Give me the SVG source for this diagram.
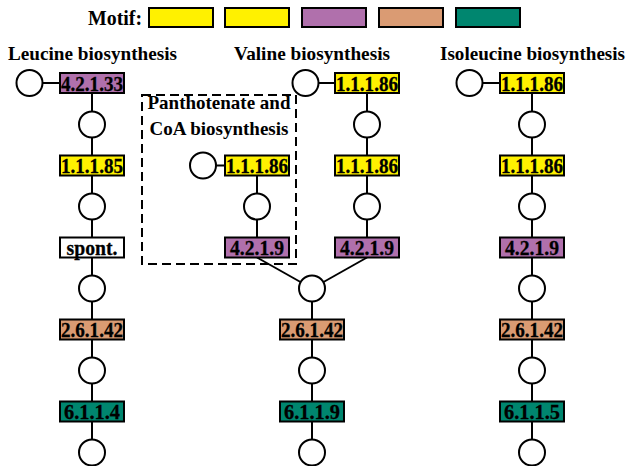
<svg xmlns="http://www.w3.org/2000/svg" width="628" height="466" viewBox="0 0 628 466">
<style>
.t{font-family:"Liberation Serif","Times New Roman",serif;font-weight:bold;font-size:19px;fill:#000}
.m{font-family:"Liberation Serif","Times New Roman",serif;font-weight:bold;font-size:20px;fill:#000}
.l{font-family:"Liberation Serif","Times New Roman",serif;font-weight:bold;font-size:22px;fill:#000;stroke:#000;stroke-width:0.3;text-anchor:middle}
.bx{stroke:#000;stroke-width:2}
.y{fill:#FFF100}
.p{fill:#B070AC}
.o{fill:#DA9B73}
.g{fill:#00866F}
.w{fill:#fff}
.c{fill:#fff;stroke:#000;stroke-width:2}
.ln{stroke:#000;stroke-width:2;fill:none}
.dash{stroke:#000;stroke-width:2;fill:none;stroke-dasharray:9 5}
</style>
<g id="legend">
<text class="m" x="88" y="25" textLength="54" lengthAdjust="spacingAndGlyphs">Motif:</text>
<rect class="bx y" x="149" y="8" width="64" height="19"/>
<rect class="bx y" x="225" y="8" width="64" height="19"/>
<rect class="bx p" x="302" y="8" width="64" height="19"/>
<rect class="bx o" x="379" y="8" width="64" height="19"/>
<rect class="bx g" x="456" y="8" width="64" height="19"/>
</g>
<g id="titles">
<text class="t" x="8" y="60" textLength="169" lengthAdjust="spacingAndGlyphs">Leucine biosynthesis</text>
<text class="t" x="234" y="60" textLength="156" lengthAdjust="spacingAndGlyphs">Valine biosynthesis</text>
<text class="t" x="440" y="60" textLength="185" lengthAdjust="spacingAndGlyphs">Isoleucine biosynthesis</text>
</g>
<g id="pantothenate-box">
<rect class="dash" x="142" y="95" width="154" height="169"/>
<text class="t" x="219" y="109" text-anchor="middle">Panthotenate and</text>
<text class="t" x="219" y="135" text-anchor="middle">CoA biosynthesis</text>
</g>
<g id="connectors">
<line class="ln" x1="29.5" y1="83" x2="92" y2="83"/>
<line class="ln" x1="92" y1="83" x2="92" y2="466"/>
<line class="ln" x1="203" y1="165.5" x2="257" y2="165.5"/>
<line class="ln" x1="257" y1="165.5" x2="257" y2="247.5"/>
<line class="ln" x1="305.5" y1="83" x2="367" y2="83"/>
<line class="ln" x1="367" y1="83" x2="367" y2="247.5"/>
<line class="ln" x1="257" y1="257.5" x2="312" y2="288.5"/>
<line class="ln" x1="367" y1="257.5" x2="312" y2="288.5"/>
<line class="ln" x1="312" y1="288.5" x2="312" y2="466"/>
<line class="ln" x1="469.5" y1="83" x2="532" y2="83"/>
<line class="ln" x1="532" y1="83" x2="532" y2="466"/>
</g>
<g id="leucine">
<g id="L-c0"><circle class="c" cx="29.5" cy="83" r="13"/></g>
<g id="L-4-2-1-33"><rect class="bx p" x="60" y="73" width="64" height="20"/><text class="l" x="92" y="90.5" textLength="62" lengthAdjust="spacingAndGlyphs">4.2.1.33</text></g>
<g id="L-c1"><circle class="c" cx="92" cy="124.5" r="13"/></g>
<g id="L-1-1-1-85"><rect class="bx y" x="60" y="155.5" width="64" height="20"/><text class="l" x="92" y="173" textLength="62" lengthAdjust="spacingAndGlyphs">1.1.1.85</text></g>
<g id="L-c2"><circle class="c" cx="92" cy="206.5" r="13"/></g>
<g id="L-spont"><rect class="bx w" x="60" y="237.5" width="64" height="20"/><text class="l" x="92" y="254.5" textLength="51" lengthAdjust="spacingAndGlyphs">spont.</text></g>
<g id="L-c3"><circle class="c" cx="92" cy="288.5" r="13"/></g>
<g id="L-2-6-1-42"><rect class="bx o" x="60" y="319.5" width="64" height="20"/><text class="l" x="92" y="337" textLength="62" lengthAdjust="spacingAndGlyphs">2.6.1.42</text></g>
<g id="L-c4"><circle class="c" cx="92" cy="370.5" r="13"/></g>
<g id="L-6-1-1-4"><rect class="bx g" x="60" y="401.5" width="64" height="20"/><text class="l" x="92" y="419" textLength="56" lengthAdjust="spacingAndGlyphs">6.1.1.4</text></g>
<g id="L-c5"><circle class="c" cx="92" cy="452.5" r="13"/></g>
</g>
<g id="pantothenate">
<g id="P-c0"><circle class="c" cx="203" cy="165.5" r="13"/></g>
<g id="P-1-1-1-86"><rect class="bx y" x="225" y="155.5" width="64" height="20"/><text class="l" x="257" y="173" textLength="62" lengthAdjust="spacingAndGlyphs">1.1.1.86</text></g>
<g id="P-c1"><circle class="c" cx="257" cy="206.5" r="13"/></g>
<g id="P-4-2-1-9"><rect class="bx p" x="225" y="237.5" width="64" height="20"/><text class="l" x="257" y="255" textLength="54" lengthAdjust="spacingAndGlyphs">4.2.1.9</text></g>
</g>
<g id="valine">
<g id="V-c0"><circle class="c" cx="305.5" cy="83" r="13"/></g>
<g id="V-1-1-1-86a"><rect class="bx y" x="335" y="73" width="64" height="20"/><text class="l" x="367" y="90.5" textLength="62" lengthAdjust="spacingAndGlyphs">1.1.1.86</text></g>
<g id="V-c1"><circle class="c" cx="367" cy="124.5" r="13"/></g>
<g id="V-1-1-1-86b"><rect class="bx y" x="335" y="155.5" width="64" height="20"/><text class="l" x="367" y="173" textLength="62" lengthAdjust="spacingAndGlyphs">1.1.1.86</text></g>
<g id="V-c2"><circle class="c" cx="367" cy="206.5" r="13"/></g>
<g id="V-4-2-1-9"><rect class="bx p" x="335" y="237.5" width="64" height="20"/><text class="l" x="367" y="255" textLength="54" lengthAdjust="spacingAndGlyphs">4.2.1.9</text></g>
<g id="V-c3"><circle class="c" cx="312" cy="288.5" r="13"/></g>
<g id="V-2-6-1-42"><rect class="bx o" x="280" y="319.5" width="64" height="20"/><text class="l" x="312" y="337" textLength="62" lengthAdjust="spacingAndGlyphs">2.6.1.42</text></g>
<g id="V-c4"><circle class="c" cx="312" cy="370.5" r="13"/></g>
<g id="V-6-1-1-9"><rect class="bx g" x="280" y="401.5" width="64" height="20"/><text class="l" x="312" y="419" textLength="56" lengthAdjust="spacingAndGlyphs">6.1.1.9</text></g>
<g id="V-c5"><circle class="c" cx="312" cy="452.5" r="13"/></g>
</g>
<g id="isoleucine">
<g id="I-c0"><circle class="c" cx="469.5" cy="83" r="13"/></g>
<g id="I-1-1-1-86a"><rect class="bx y" x="500" y="73" width="64" height="20"/><text class="l" x="532" y="90.5" textLength="62" lengthAdjust="spacingAndGlyphs">1.1.1.86</text></g>
<g id="I-c1"><circle class="c" cx="532" cy="124.5" r="13"/></g>
<g id="I-1-1-1-86b"><rect class="bx y" x="500" y="155.5" width="64" height="20"/><text class="l" x="532" y="173" textLength="62" lengthAdjust="spacingAndGlyphs">1.1.1.86</text></g>
<g id="I-c2"><circle class="c" cx="532" cy="206.5" r="13"/></g>
<g id="I-4-2-1-9"><rect class="bx p" x="500" y="237.5" width="64" height="20"/><text class="l" x="532" y="255" textLength="54" lengthAdjust="spacingAndGlyphs">4.2.1.9</text></g>
<g id="I-c3"><circle class="c" cx="532" cy="288.5" r="13"/></g>
<g id="I-2-6-1-42"><rect class="bx o" x="500" y="319.5" width="64" height="20"/><text class="l" x="532" y="337" textLength="62" lengthAdjust="spacingAndGlyphs">2.6.1.42</text></g>
<g id="I-c4"><circle class="c" cx="532" cy="370.5" r="13"/></g>
<g id="I-6-1-1-5"><rect class="bx g" x="500" y="401.5" width="64" height="20"/><text class="l" x="532" y="419" textLength="56" lengthAdjust="spacingAndGlyphs">6.1.1.5</text></g>
<g id="I-c5"><circle class="c" cx="532" cy="452.5" r="13"/></g>
</g>
</svg>
